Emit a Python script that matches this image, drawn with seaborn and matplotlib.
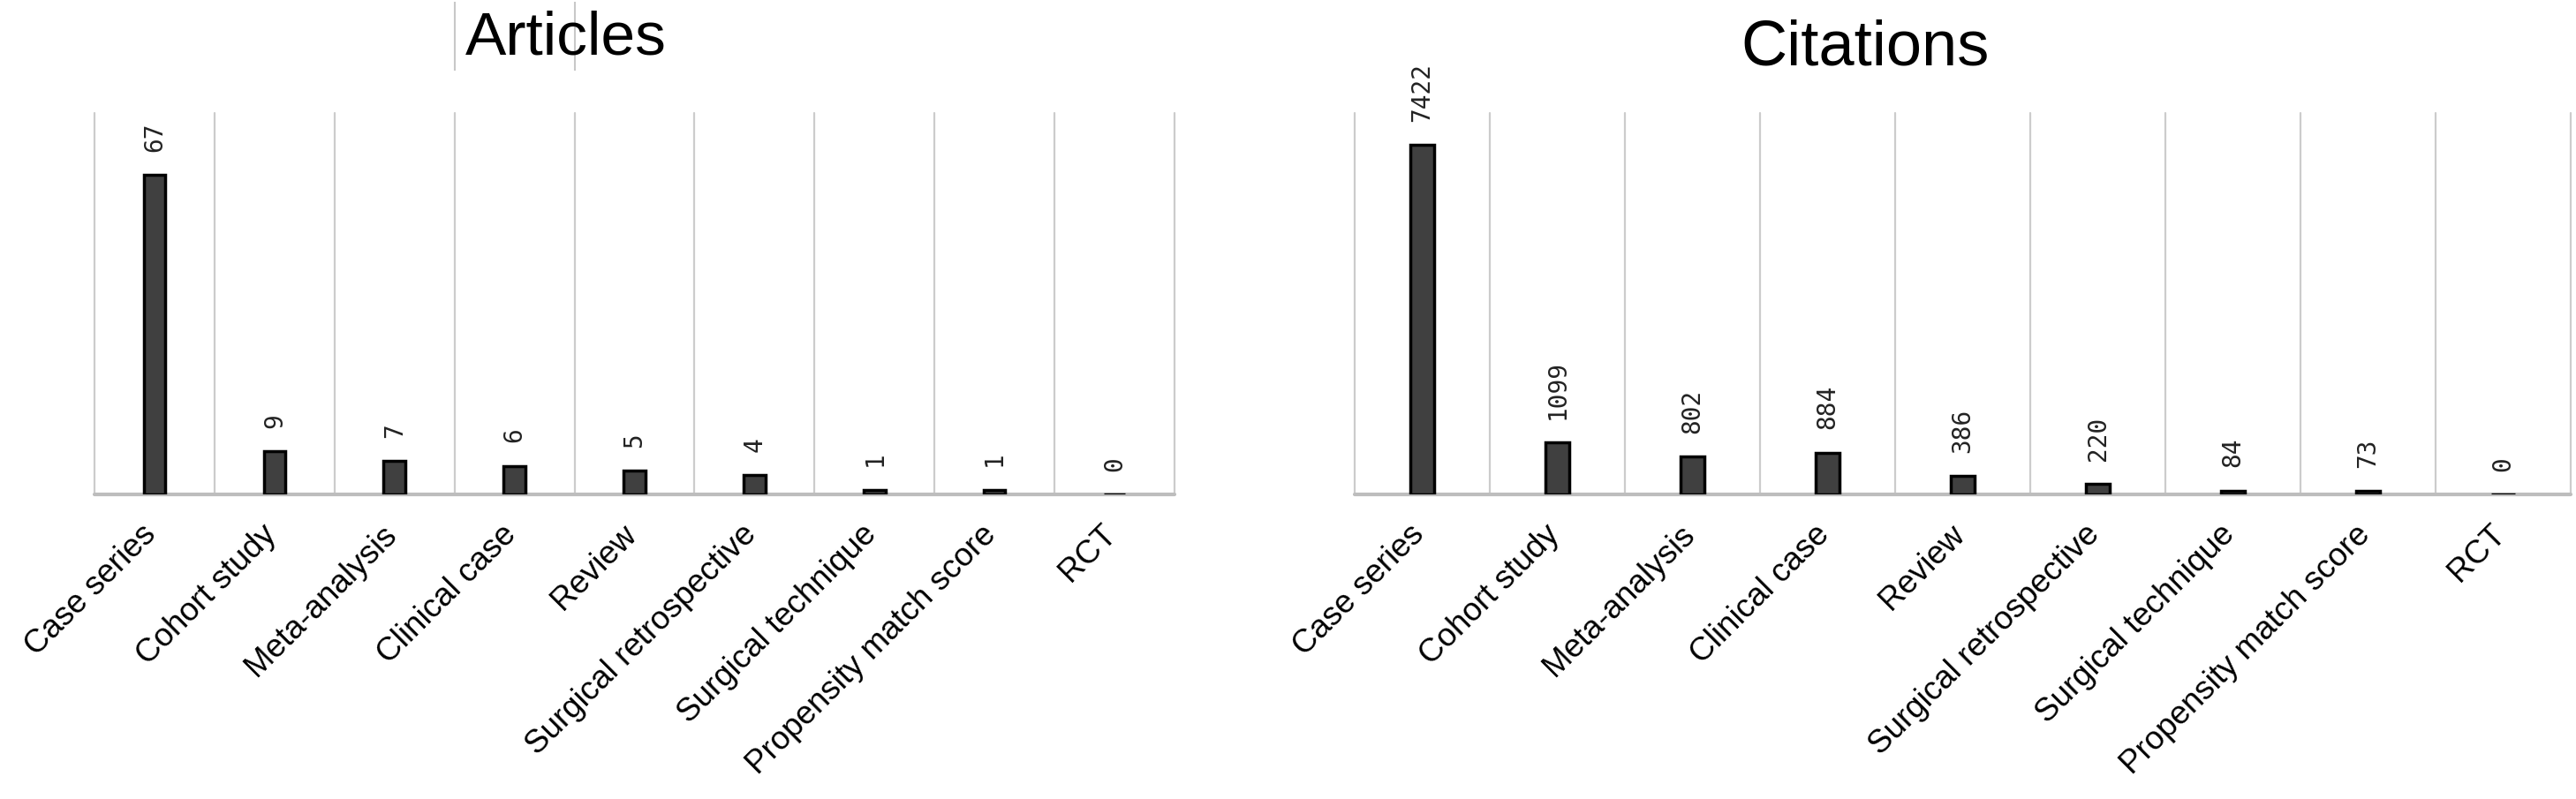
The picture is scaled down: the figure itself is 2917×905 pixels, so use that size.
import matplotlib
matplotlib.use("Agg")
import matplotlib.pyplot as plt
import matplotlib.transforms as mtransforms
import seaborn as sns
import pandas as pd

categories = ["Case series", "Cohort study", "Meta-analysis", "Clinical case", "Review",
              "Surgical retrospective", "Surgical technique", "Propensity match score", "RCT"]
articles = [67, 9, 7, 6, 5, 4, 1, 1, 0]
citations = [7422, 1099, 802, 884, 386, 220, 84, 73, 0]

sns.set_theme(style="white")
plt.rcParams["font.family"] = ["Liberation Sans", "DejaVu Sans"]

W, H = 2917, 905
dpi = 100
fig = plt.figure(figsize=(W / dpi, H / dpi), dpi=dpi)
fig.patch.set_facecolor("white")
base_px, top_px = 560, 128
ax_h = base_px - top_px
ax1 = fig.add_axes([107 / W, 1 - base_px / H, 1223 / W, ax_h / H])
ax2 = fig.add_axes([1534 / W, 1 - base_px / H, 1377 / W, ax_h / H])


def draw(ax, values, ymax):
    df = pd.DataFrame({"cat": categories, "val": values})
    sns.barplot(data=df, x="cat", y="val", ax=ax, color="#404040", width=0.18,
                edgecolor="black", linewidth=2.5, saturation=1, zorder=3)
    n = len(categories)
    ax.set_xlim(-0.5, n - 0.5)
    ax.set_ylim(0, ymax)
    for k in range(n + 1):
        ax.axvline(k - 0.5, color="#cccccc", lw=1.6, zorder=0, clip_on=False)
    ax.axhline(0, color="#bdbdbd", lw=3, zorder=1, clip_on=False)
    for s in ax.spines.values():
        s.set_visible(False)
    ax.set_yticks([])
    ax.set_xlabel("")
    ax.set_ylabel("")
    ax.set_xticks(range(n))
    ax.set_xticklabels(categories, rotation=45, ha="right", va="center",
                       rotation_mode="anchor", fontsize=26.5, color="black")
    ax.tick_params(axis="x", length=0, pad=29)
    offset = mtransforms.ScaledTranslation(-3 / dpi, 0, fig.dpi_scale_trans)
    for lab in ax.get_xticklabels():
        lab.set_transform(lab.get_transform() + offset)
    for i, v in enumerate(values):
        ax.annotate(str(v), (i, v), xytext=(0, 19), textcoords="offset points",
                    rotation=90, ha="center", va="bottom", fontsize=20,
                    family="DejaVu Sans Mono", color="#222222")


draw(ax1, articles, 80)
draw(ax2, citations, 8100)

# faint gridline fragments visible behind the "Articles" title
trans = mtransforms.blended_transform_factory(ax1.transData, ax1.transAxes)
ax1.vlines([2.5, 3.5], (base_px - 80) / ax_h, (base_px - 2) / ax_h, transform=trans,
           color="#c8c8c8", lw=1.5, clip_on=False, zorder=0)

fig.text(641 / W, 1 - 62 / H, "Articles", ha="center", va="baseline", fontsize=50, color="black")
fig.text(2112 / W, 1 - 74 / H, "Citations", ha="center", va="baseline", fontsize=52, color="black")

fig.savefig("out.png", dpi=dpi, facecolor="white")
